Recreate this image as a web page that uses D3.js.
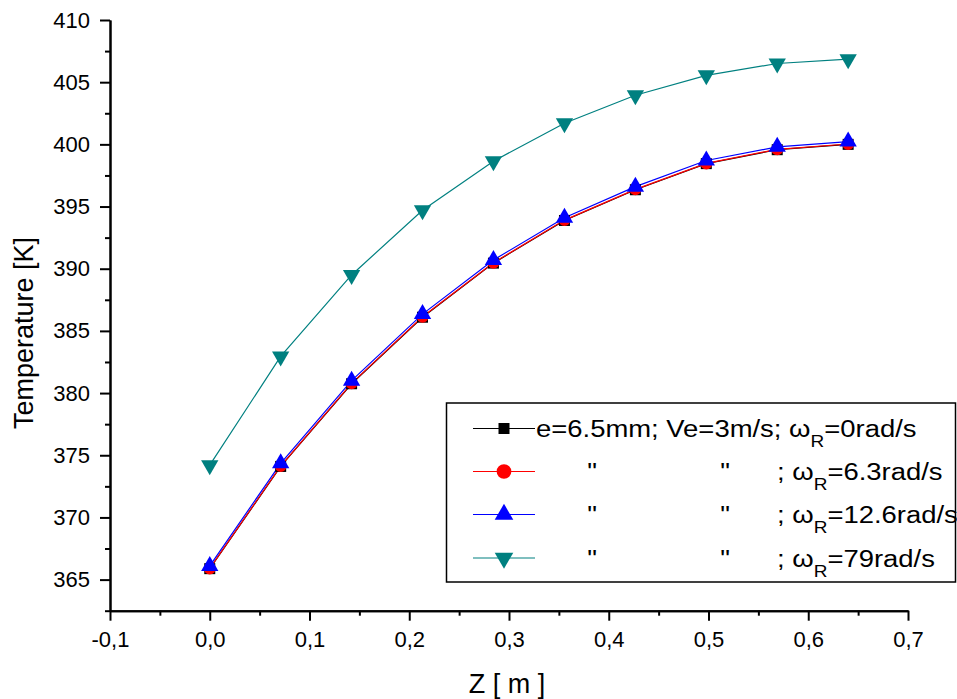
<!DOCTYPE html>
<html>
<head>
<meta charset="utf-8">
<script src="https://cdn.jsdelivr.net/npm/d3@7"></script>
<style>
  body { margin: 0; background: #fff; }
  svg { display: block; font-family: Arial, 'Liberation Sans', sans-serif; }
  .axis path, .axis line { stroke: #000; stroke-width: 2px; }
  .axis text { font-size: 22px; fill: #000; }
</style>
</head>
<body>
<div id="container"></div>
<script>
// Z positions [m]
const zValues = [0, 0.0711, 0.1422, 0.2133, 0.2844, 0.3556, 0.4267, 0.4978, 0.5689, 0.64];

// Temperature [K] for each rotation speed
const tempOmega0 = [365.88, 374.1, 380.75, 386.1, 390.45, 393.88, 396.35, 398.45, 399.57, 400.0];
const tempOmega6 = [365.9, 374.13, 380.78, 386.14, 390.48, 393.91, 396.38, 398.47, 399.6, 400.03];
const tempOmega12 = [366.1, 374.35, 381.0, 386.35, 390.7, 394.1, 396.6, 398.7, 399.8, 400.22];
const tempOmega79 = [374.2, 382.95, 389.5, 394.7, 398.65, 401.7, 403.95, 405.55, 406.5, 406.85];

const omegaLabels = ['0', '6.3', '12.6', '79'];

const xMajorTicks = [-0.1, 0, 0.1, 0.2, 0.3, 0.4, 0.5, 0.6, 0.7];
const xMinorTicks = [-0.05, 0.05, 0.15, 0.25, 0.35, 0.45, 0.55, 0.65];
const yMajorTicks = [365, 370, 375, 380, 385, 390, 395, 400, 405, 410];
const yMinorTicks = [362.5, 367.5, 372.5, 377.5, 382.5, 387.5, 392.5, 397.5, 402.5, 407.5];

const series = [
  { values: tempOmega0, color: '#000000', symbol: d3.symbolSquare, size: 121, legendSize: 121, rot: 0 },
  { values: tempOmega6, color: '#ff0000', symbol: d3.symbolCircle, size: 113, legendSize: 170, rot: 0 },
  { values: tempOmega12, color: '#0000ff', symbol: d3.symbolTriangle, size: 130, legendSize: 150, rot: 0 },
  { values: tempOmega79, color: '#008080', symbol: d3.symbolTriangle, size: 130, legendSize: 150, rot: 180 }
];

const width = 957, height = 699;
const x = d3.scaleLinear().domain([-0.1, 0.7]).range([110, 908]);
const y = d3.scaleLinear().domain([362.5, 410]).range([610.7, 20]);

const svg = d3.select('#container').append('svg')
  .attr('width', width)
  .attr('height', height);

const fmtX = (d) => d.toFixed(1).replace('.', ',');

main();

function main() {
  drawAxes();
  drawSeries();
  drawLegend();
}

function drawAxes() {
  const xAxis = svg.append('g')
    .attr('class', 'axis')
    .attr('transform', `translate(0, ${y(362.5)})`);
  xAxis.call(d3.axisBottom(x).tickValues(xMinorTicks).tickSize(5).tickSizeOuter(0).tickFormat(''));
  xAxis.append('g')
    .call(d3.axisBottom(x).tickValues(xMajorTicks).tickSize(10).tickSizeOuter(0).tickPadding(11).tickFormat(fmtX));

  const yAxis = svg.append('g')
    .attr('class', 'axis')
    .attr('transform', `translate(${x(-0.1)}, 0)`);
  yAxis.call(d3.axisLeft(y).tickValues(yMinorTicks).tickSize(5).tickSizeOuter(0).tickFormat(''));
  yAxis.append('g')
    .call(d3.axisLeft(y).tickValues(yMajorTicks).tickSize(10).tickSizeOuter(0).tickPadding(10).tickFormat(d3.format('d')));

  svg.selectAll('.axis text').attr('fill', '#000').style('font-family', "Arial, 'Liberation Sans', sans-serif");

  svg.append('text')
    .attr('x', 507)
    .attr('y', 693)
    .attr('text-anchor', 'middle')
    .style('font-size', '27px')
    .text('Z [ m ]');

  svg.append('text')
    .attr('transform', 'rotate(-90)')
    .attr('x', -333)
    .attr('y', 33)
    .attr('text-anchor', 'middle')
    .style('font-size', '27px')
    .text('Temperature [K]');
}

function drawSeries() {
  const line = d3.line()
    .x((d, i) => x(zValues[i]))
    .y((d) => y(d));

  series.forEach((s) => {
    svg.append('path')
      .datum(s.values)
      .attr('fill', 'none')
      .attr('stroke', s.color)
      .attr('stroke-width', 1.2)
      .attr('d', line);
  });

  series.forEach((s) => {
    svg.append('g')
      .selectAll('path')
      .data(s.values)
      .enter()
      .append('path')
      .attr('d', d3.symbol().type(s.symbol).size(s.size))
      .attr('fill', s.color)
      .attr('transform', (d, i) => `translate(${x(zValues[i])}, ${y(d)}) rotate(${s.rot})`);
  });
}

function legendText(row, xPos, anchor) {
  return row.append('text')
    .attr('transform', `translate(${xPos}, 8.5) scale(1.12, 1)`)
    .attr('text-anchor', anchor)
    .style('font-size', '24.5px');
}

function drawLegend() {
  const legend = svg.append('g');
  legend.append('rect')
    .attr('x', 446.5)
    .attr('y', 403)
    .attr('width', 509)
    .attr('height', 179)
    .attr('fill', '#fff')
    .attr('stroke', '#000')
    .attr('stroke-width', 1.5);

  const rowY = [428.5, 471.5, 514.5, 558];
  series.forEach((s, i) => {
    const row = legend.append('g').attr('transform', `translate(0, ${rowY[i]})`);
    row.append('line')
      .attr('x1', 473).attr('x2', 535)
      .attr('stroke', s.color)
      .attr('stroke-width', 1.2);
    row.append('path')
      .attr('d', d3.symbol().type(s.symbol).size(s.legendSize)())
      .attr('fill', s.color)
      .attr('transform', `translate(504, 0) rotate(${s.rot})`);

    let t;
    if (i === 0) {
      t = legendText(row, 536, 'start');
      t.append('tspan').text('e=6.5mm; Ve=3m/s; ω');
    } else {
      legendText(row, 592, 'middle').text('"');
      legendText(row, 725, 'middle').text('"');
      t = legendText(row, 777, 'start');
      t.append('tspan').text('; ω');
    }
    t.append('tspan').attr('dy', 10).style('font-size', '17px').text('R');
    t.append('tspan').attr('dy', -10).text(`=${omegaLabels[i]}rad/s`);
  });
}
</script>
</body>
</html>
